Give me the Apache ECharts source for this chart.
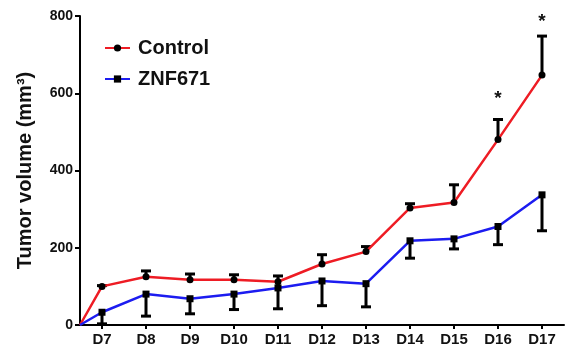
<!DOCTYPE html>
<html>
<head>
<meta charset="utf-8">
<script src="https://cdn.jsdelivr.net/npm/echarts@6/dist/echarts.min.js"></script>
<style>html,body{margin:0;padding:0;background:#fff}#c{width:565px;height:350px}</style>
</head>
<body>
<div id="c"></div>
<script>
const days = [7, 8, 9, 10, 11, 12, 13, 14, 15, 16, 17];
const dayLabels = ['D7','D8','D9','D10','D11','D12','D13','D14','D15','D16','D17'];
const startDay = 6.5;
const startValue = 0;
const controlMean = [100, 125, 117, 117, 112, 158, 190, 303, 317, 480, 647];
const controlErrTop = [102, 140, 132, 130, 127, 182, 203, 314, 363, 532, 748];
const znfMean = [33, 80, 68, 80, 96, 114, 107, 218, 223, 255, 337];
const znfErrBottom = [3, 23, 29, 40, 42, 50, 47, 173, 197, 208, 244];
const starDays = [16, 17];
const starValues = [587, 786];

const FONT = 'Liberation Sans, Arial, sans-serif';
const RED = '#ee1c24';
const BLUE = '#1c1cf0';

function lineData(means) {
  return [{ value: [startDay, startValue], symbol: 'none' }].concat(days.map((d, i) => [d, means[i]]));
}
function errData(means, ends) {
  return days.map((d, i) => [d, means[i], ends[i]]);
}
function errRender(params, api) {
  const x = api.value(0);
  const p1 = api.coord([x, api.value(1)]);
  const p2 = api.coord([x, api.value(2)]);
  const cw = 5;
  return {
    type: 'group',
    children: [
      { type: 'line', shape: { x1: p1[0], y1: p1[1], x2: p2[0], y2: p2[1] }, style: { stroke: '#000', lineWidth: 3 } },
      { type: 'line', shape: { x1: p2[0] - cw, y1: p2[1], x2: p2[0] + cw, y2: p2[1] }, style: { stroke: '#000', lineWidth: 3 } }
    ]
  };
}
function starRender(params, api) {
  const p = api.coord([api.value(0), api.value(1)]);
  return {
    type: 'text', x: p[0], y: p[1],
    style: { text: '*', align: 'center', verticalAlign: 'middle', font: 'bold 19px ' + FONT, fill: '#111' }
  };
}

const chart = echarts.init(document.getElementById('c'));
chart.setOption({
  animation: false,
  backgroundColor: '#fff',
  grid: { left: 80, top: 16, right: 1, bottom: 25 },
  legend: {
    left: 99, top: 33, orient: 'vertical', itemWidth: 25, itemHeight: 9, itemGap: 11,
    data: ['Control', 'ZNF671'],
    textStyle: { fontFamily: FONT, fontWeight: 'bold', fontSize: 20, color: '#111', padding: [0, 0, 0, 3] }
  },
  xAxis: {
    type: 'value', min: startDay, max: 17.5,
    axisLine: { lineStyle: { color: '#000', width: 2 } },
    axisTick: { show: true, length: 4, lineStyle: { color: '#000', width: 2 }, customValues: days },
    axisLabel: {
      customValues: days, margin: 7,
      formatter: v => dayLabels[days.indexOf(v)] || '',
      fontFamily: FONT, fontWeight: 'bold', fontSize: 15, color: '#111'
    },
    splitLine: { show: false }
  },
  yAxis: {
    type: 'value', min: 0, max: 800, interval: 200,
    name: 'Tumor volume (mm³)', nameLocation: 'middle', nameGap: 45,
    nameTextStyle: { fontFamily: FONT, fontWeight: 'bold', fontSize: 20, color: '#111' },
    axisLine: { show: true, lineStyle: { color: '#000', width: 2 } },
    axisTick: { show: true, length: 5, lineStyle: { color: '#000', width: 2 } },
    axisLabel: { margin: 7, fontFamily: FONT, fontWeight: 'bold', fontSize: 14, color: '#111' },
    splitLine: { show: false }
  },
  series: [
    { type: 'custom', name: 'cErr', renderItem: errRender, data: errData(controlMean, controlErrTop), z: 3 },
    { type: 'custom', name: 'zErr', renderItem: errRender, data: errData(znfMean, znfErrBottom), z: 3 },
    {
      type: 'line', name: 'Control', data: lineData(controlMean),
      symbol: 'circle', symbolSize: 7, showAllSymbol: true,
      lineStyle: { color: RED, width: 2.5 }, itemStyle: { color: '#000' }, z: 4
    },
    {
      type: 'line', name: 'ZNF671', data: lineData(znfMean),
      symbol: 'rect', symbolSize: 7, showAllSymbol: true,
      lineStyle: { color: BLUE, width: 2.5 }, itemStyle: { color: '#000' }, z: 4
    },
    {
      type: 'custom', name: 'stars', renderItem: starRender,
      data: starDays.map((d, i) => [d, starValues[i]]), z: 5
    }
  ]
});
</script>
</body>
</html>
